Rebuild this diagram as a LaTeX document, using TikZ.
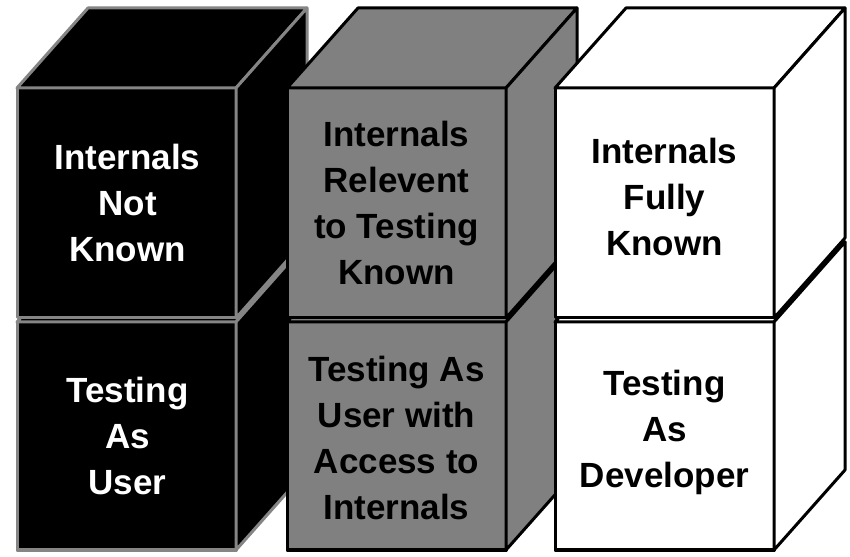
\documentclass[tikz,border=0pt]{standalone}
\usepackage{fontspec}
\setmainfont{Liberation Sans}

% one box: front, top and side face
\newcommand{\drawcube}[4]{%
  \filldraw[face,#4] (#1,#2) rectangle (#1+219,#3);
  \filldraw[face,#4] (#1,#3) -- (#1+71,#3+80) -- (#1+290,#3+80) -- (#1+219,#3) -- cycle;
  \filldraw[face,#4] (#1+219,#2) -- (#1+219,#3) -- (#1+290,#3+80) -- (#1+290,#2+80) -- cycle;
}

\tikzset{
  face/.style={line width=3, line join=round},
  blackbox/.style={fill=black, draw=black!48},
  graybox/.style={fill=black!50, draw=black},
  whitebox/.style={fill=white, draw=black},
  facetext/.style={align=center, font=\fontsize{35}{46}\selectfont\bfseries}
}

\begin{document}
\begin{tikzpicture}[x=1pt,y=1pt]
    \useasboundingbox (0,0) rectangle (850,556);
    \fill[white] (0,0) rectangle (850,556);

    % left column
    \drawcube{17}{6}{234}{blackbox}
    \drawcube{17}{238}{468}{blackbox}
    % middle column
    \drawcube{287}{6}{234}{graybox}
    \drawcube{287}{238}{468}{graybox}
    % right column
    \drawcube{555}{6}{234}{whitebox}
    \drawcube{555}{238}{468}{whitebox}

    \node[facetext, text=white] (notknown) at (127.5,353) {Internals\\Not\\Known};
    \node[facetext, text=white] (asuser) at (127.5,120) {Testing\\As\\User};
    \node[facetext] (relevant) at (396.5,353) {Internals\\Relevent\\to Testing\\Known};
    \node[facetext] (withaccess) at (396.5,118) {Testing As\\User with\\Access to\\Internals};
    \node[facetext] (fullyknown) at (664.5,359) {Internals\\Fully\\Known};
    \node[facetext] (asdev) at (664.5,124) {Testing\\As\\Developer};
\end{tikzpicture}
\end{document}
